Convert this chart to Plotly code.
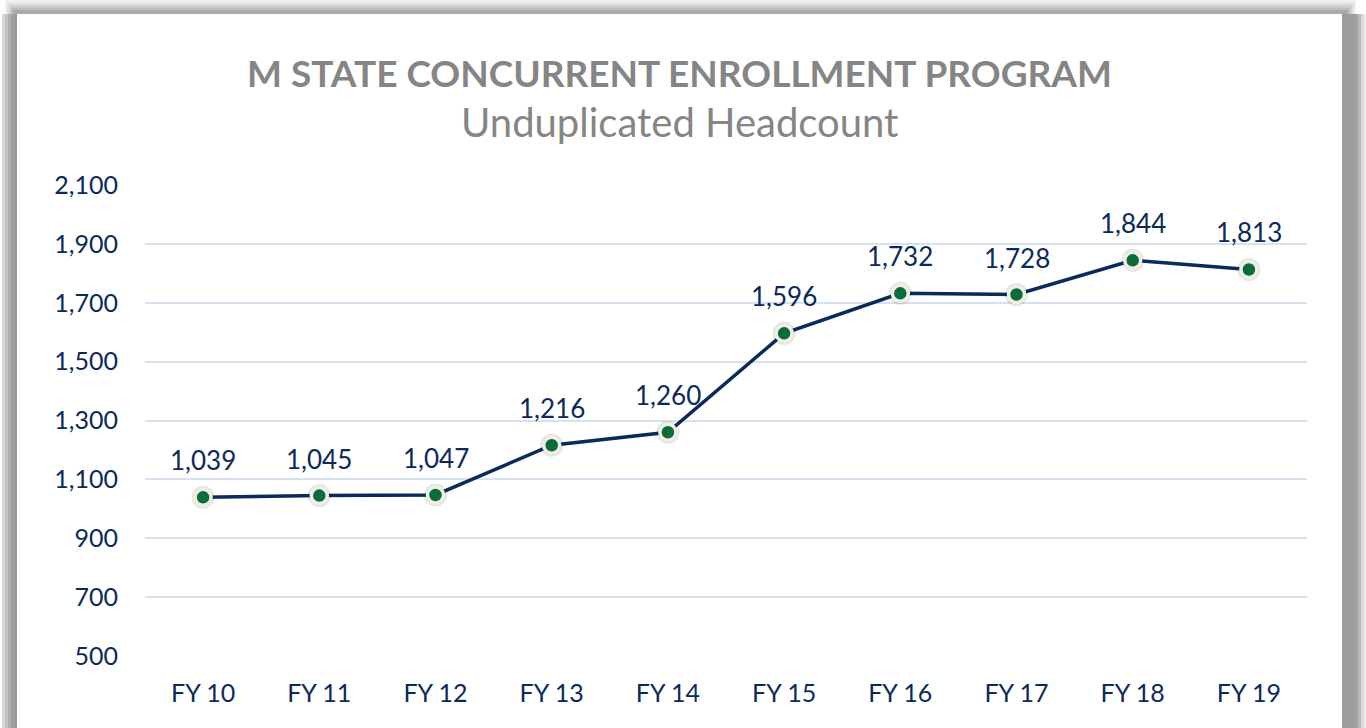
import plotly.graph_objects as go

categories = ["FY 10", "FY 11", "FY 12", "FY 13", "FY 14", "FY 15", "FY 16", "FY 17", "FY 18", "FY 19"]
headcount = [1039, 1045, 1047, 1216, 1260, 1596, 1732, 1728, 1844, 1813]
y_ticks = [500, 700, 900, 1100, 1300, 1500, 1700, 1900, 2100]

title_text = "M STATE CONCURRENT ENROLLMENT PROGRAM"
subtitle_text = "Unduplicated Headcount"

NAVY = "#0b2a5b"
GREEN = "#0a6b3b"
FONT = "Lato, 'Open Sans', sans-serif"

W, H = 1366, 728
L, R, T, B = 145, 59, 185, 72
pw, ph = W - L - R, H - T - B

def px(x):
    return (x - L) / pw

def py(y):
    return (H - B - y) / ph

fig = go.Figure()

# marker shadow
fig.add_trace(go.Scatter(
    x=list(range(len(categories))), y=headcount, mode="markers",
    marker=dict(size=23, color="rgba(0,0,0,0.10)", line=dict(width=0)),
    hoverinfo="skip", showlegend=False,
))
fig.add_trace(go.Scatter(
    x=list(range(len(categories))), y=headcount, mode="lines+markers",
    line=dict(color=NAVY, width=3.5),
    marker=dict(size=16, color=GREEN, line=dict(color="#f1efe2", width=3.5)),
    showlegend=False,
))

annotations = []
for i, v in enumerate(headcount):
    annotations.append(dict(
        x=i, y=v, xref="x", yref="y", text=f"{v:,}", showarrow=False,
        yshift=37, font=dict(family=FONT, size=26, color=NAVY),
    ))
annotations.append(dict(
    x=px(679), y=py(72), xref="paper", yref="paper", text=f"<b>{title_text}</b>",
    showarrow=False, font=dict(family=FONT, size=37, color="#858585"),
    xanchor="center", yanchor="middle",
))
annotations.append(dict(
    x=px(679), y=py(122), xref="paper", yref="paper", text=subtitle_text,
    showarrow=False, font=dict(family=FONT, size=40, color="#858585"),
    xanchor="center", yanchor="middle",
))

shapes = []
# left band gradient
for k, c in enumerate([215, 195, 175, 160, 155]):
    shapes.append(dict(type="rect", xref="paper", yref="paper", layer="below",
                       x0=px(k * 3 + 2), x1=px(17), y0=py(H), y1=py(14),
                       fillcolor=f"rgb({c},{c},{c})", line=dict(width=0)))
# top band gradient
for k, c in enumerate([240, 225, 210, 190, 170]):
    shapes.append(dict(type="rect", xref="paper", yref="paper", layer="below",
                       x0=px(5 + k * 2), x1=px(1356 - k * 2), y0=py(14), y1=py(k * 2.5),
                       fillcolor=f"rgb({c},{c},{c})", line=dict(width=0)))
# right band gradient
for k, c in enumerate([235, 215, 190, 165, 157]):
    shapes.append(dict(type="rect", xref="paper", yref="paper", layer="below",
                       x0=px(1342), x1=px(1366 - k * 2.5), y0=py(H), y1=py(14),
                       fillcolor=f"rgb({c},{c},{c})", line=dict(width=0)))
# white panel
shapes.append(dict(type="rect", xref="paper", yref="paper", layer="below",
                   x0=px(17), x1=px(1342), y0=py(H), y1=py(14),
                   fillcolor="#ffffff", line=dict(width=0)))

fig.update_layout(
    width=W, height=H,
    margin=dict(l=L, r=R, t=T, b=B, pad=0),
    paper_bgcolor="#ffffff", plot_bgcolor="rgba(0,0,0,0)",
    annotations=annotations, shapes=shapes,
    font=dict(family=FONT, color=NAVY),
    xaxis=dict(
        tickmode="array", tickvals=list(range(len(categories))), ticktext=categories,
        range=[-0.5, len(categories) - 0.5], showgrid=False, zeroline=False,
        showline=False, ticks="", tickfont=dict(family=FONT, size=25, color=NAVY),
        ticklabelstandoff=20, fixedrange=True,
    ),
    yaxis=dict(
        range=[500, 2100], tickmode="array", tickvals=y_ticks,
        ticktext=[f"{v:,}" for v in y_ticks],
        showgrid=True, gridcolor="#d7e2f1", gridwidth=2, zeroline=False,
        showline=False, ticks="", tickfont=dict(family=FONT, size=25, color=NAVY),
        ticklabelstandoff=26, fixedrange=True,
    ),
)

fig.write_html("out.html", config={"displayModeBar": False},
               post_script="document.body.style.margin='0';document.body.style.overflow='hidden';")
